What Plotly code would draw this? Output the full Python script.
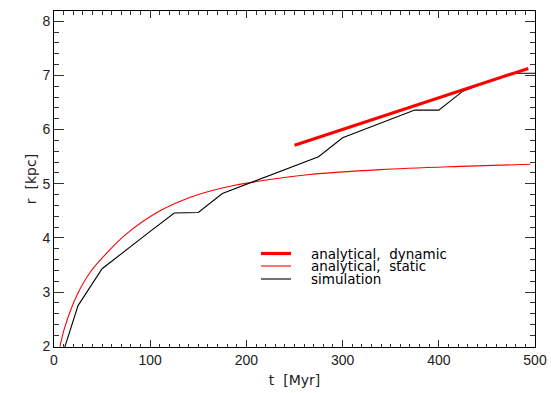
import plotly.graph_objects as go

# Simulation (black)
sim_t = [0, 25, 50, 75, 100, 125, 150, 175, 200, 225, 250, 275, 300, 325, 350, 375, 400, 425, 450, 475, 500]
sim_r = [1.36, 2.75, 3.43, 3.78, 4.12, 4.46, 4.47, 4.82, 4.99, 5.16, 5.33, 5.50, 5.85, 6.02, 6.19, 6.36, 6.36, 6.71, 6.88, 7.04, 7.04]

# Analytical, static (thin red)
sta_t = [6.2, 11.4, 23.6, 37.4, 54.8, 75, 110.2, 144.8, 179.5, 214, 266, 339, 422, 495]
sta_r = [1.99, 2.36, 2.93, 3.36, 3.72, 4.07, 4.50, 4.77, 4.94, 5.05, 5.17, 5.26, 5.32, 5.36]

# Analytical, dynamic (thick red)
dyn_t = [250, 300, 350, 400, 450, 493]
dyn_r = [5.71, 6.00, 6.30, 6.59, 6.87, 7.13]

legend_labels = ["analytical,  dynamic", "analytical,  static", "simulation"]

fig = go.Figure()
fig.add_trace(go.Scatter(x=sta_t, y=sta_r, mode="lines", name=legend_labels[1],
                         line=dict(color="#ff0000", width=1.1, shape="spline", smoothing=1.0)))
fig.add_trace(go.Scatter(x=sim_t, y=sim_r, mode="lines", name=legend_labels[2],
                         line=dict(color="#000000", width=1.1)))
fig.add_trace(go.Scatter(x=dyn_t, y=dyn_r, mode="lines", name=legend_labels[0],
                         line=dict(color="#ff0000", width=3.2)))

# Manual legend (IDL-style tight rows)
leg_styles = [("#ff0000", 3.2), ("#ff0000", 1.1), ("#000000", 1.1)]
leg_y = [253.5, 266, 279]
W, H = 551, 393
for (col, w), yy, lab in zip(leg_styles, leg_y, legend_labels):
    yp = 1 - (yy - 11) / (347 - 11)
    fig.add_shape(type="line", xref="paper", yref="paper",
                  x0=(261 - 54) / 481, x1=(291 - 54) / 481, y0=yp, y1=yp,
                  line=dict(color=col, width=w))
    fig.add_annotation(xref="paper", yref="paper", x=(309 - 54) / 481, y=yp,
                       text=lab, showarrow=False, xanchor="left", yanchor="middle",
                       font=dict(family="DejaVu Sans", size=13.5, color="#000000"))

axis_font = dict(family="Liberation Sans", size=14, color="#222222")
fig.update_layout(
    width=W, height=H,
    margin=dict(l=54, r=16, t=11, b=46, autoexpand=False),
    plot_bgcolor="white", paper_bgcolor="white",
    showlegend=False,
    font=axis_font,
    xaxis=dict(range=[0, 500], dtick=100, tick0=0, ticks="inside", ticklen=7,
               tickwidth=1, tickcolor="#333333", automargin=False,
               minor=dict(ticks="inside", ticklen=3.5, dtick=10, tickcolor="#333333", showgrid=False),
               showline=True, linecolor="#000000", linewidth=1, mirror="allticks",
               showgrid=False, zeroline=False,
               title=dict(text="t  [Myr]", font=dict(family="DejaVu Sans", size=14), standoff=8),
               tickfont=axis_font),
    yaxis=dict(range=[1.985, 8.19], dtick=1, tick0=0, ticks="inside", ticklen=10,
               tickwidth=1, tickcolor="#333333", automargin=False,
               minor=dict(ticks="inside", ticklen=5, dtick=0.2, tickcolor="#333333", showgrid=False),
               showline=True, linecolor="#000000", linewidth=1, mirror="allticks",
               showgrid=False, zeroline=False,
               title=dict(text="r  [kpc]", font=dict(family="DejaVu Sans", size=14), standoff=2),
               tickfont=axis_font),
)

fig.write_html("out.html")
